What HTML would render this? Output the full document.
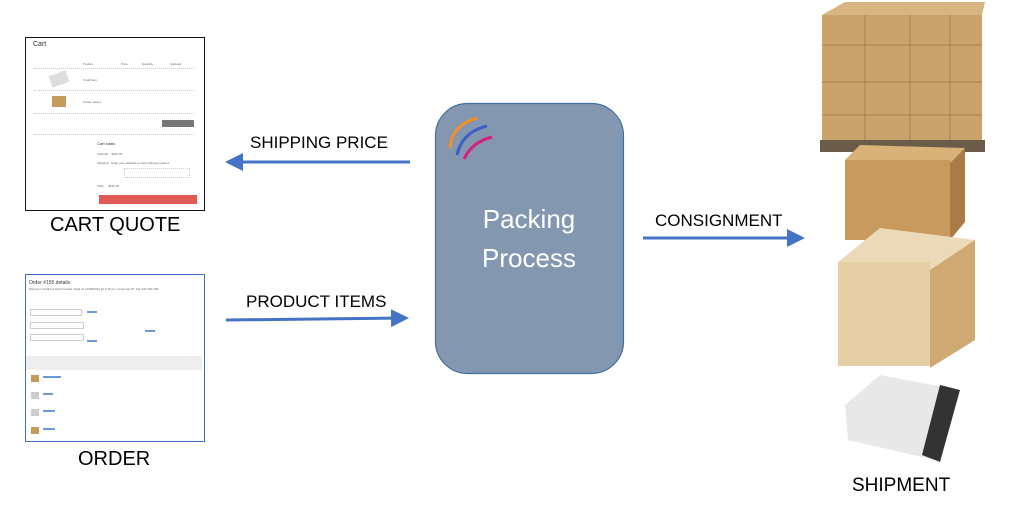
<!DOCTYPE html>
<html><head><style>
body{margin:0;width:1024px;height:512px;background:#fff;position:relative;overflow:hidden;font-family:"Liberation Sans",sans-serif}
.a{position:absolute}
.lbl{position:absolute;font-size:17px;color:#000}
.big{position:absolute;font-size:20px;color:#000}
.t{position:absolute;font-size:3px;color:#666}
.line{position:absolute;border-top:1px dotted #ccc}
</style></head><body>
<!-- cart screenshot -->
<div class="a" style="left:25px;top:37px;width:178px;height:172px;border:1.5px solid #111;background:#fff"></div>
<div class="a" style="left:33px;top:41px;font-size:7px;color:#333">Cart</div>
<div class="t" style="left:83px;top:62px">Product</div><div class="t" style="left:121px;top:62px">Price</div><div class="t" style="left:142px;top:62px">Quantity</div><div class="t" style="left:170px;top:62px">Subtotal</div>
<div class="line" style="left:34px;top:68px;width:160px"></div>
<div class="a" style="left:50px;top:73px;width:18px;height:12px;background:#ddd;transform:rotate(-20deg)"></div>
<div class="a" style="left:52px;top:96px;width:14px;height:11px;background:#c59b5c"></div>
<div class="t" style="left:83px;top:78px">Small Item</div><div class="t" style="left:83px;top:100px">Carton Heavy</div>
<div class="line" style="left:34px;top:90px;width:160px"></div>
<div class="line" style="left:34px;top:113px;width:160px"></div>
<div class="a" style="left:162px;top:120px;width:32px;height:7px;background:#777"></div>
<div class="line" style="left:34px;top:134px;width:160px"></div>
<div class="a" style="left:97px;top:141px;font-size:4px;color:#333">Cart totals</div>
<div class="t" style="left:97px;top:152px">Subtotal&nbsp;&nbsp;&nbsp;&nbsp;$150.00</div>
<div class="t" style="left:97px;top:161px">Shipping&nbsp;&nbsp;&nbsp;Enter your address to view shipping options.</div>
<div class="a" style="left:124px;top:168px;width:64px;height:8px;border:1px dotted #ccc"></div>
<div class="t" style="left:97px;top:184px">Total&nbsp;&nbsp;&nbsp;&nbsp;&nbsp;&nbsp;$150.00</div>
<div class="a" style="left:99px;top:195px;width:98px;height:9px;background:#e05a55"></div>
<div class="big" style="left:50px;top:214px">CART QUOTE</div>
<!-- order screenshot -->
<div class="a" style="left:25px;top:274px;width:178px;height:166px;border:1.5px solid #3a6fc4;background:#fff"></div>
<div class="a" style="left:29px;top:280px;font-size:5px;color:#333">Order #155 details</div>
<div class="t" style="left:29px;top:287px">Payment via Direct bank transfer. Paid on 14/08/2021 @ 2:16 am. Customer IP: 144.130.100.108</div>
<div class="a" style="left:30px;top:309px;width:50px;height:5px;border:1px solid #ccc"></div>
<div class="a" style="left:30px;top:322px;width:52px;height:5px;border:1px solid #ccc"></div>
<div class="a" style="left:30px;top:334px;width:52px;height:5px;border:1px solid #ccc"></div>
<div class="a" style="left:87px;top:311px;width:10px;height:2px;background:#6a9ad8"></div>
<div class="a" style="left:87px;top:340px;width:10px;height:2px;background:#6a9ad8"></div>
<div class="a" style="left:145px;top:330px;width:10px;height:2px;background:#6a9ad8"></div>
<div class="a" style="left:26px;top:356px;width:176px;height:14px;background:#eee"></div>
<div class="a" style="left:31px;top:375px;width:8px;height:7px;background:#c59b5c"></div>
<div class="a" style="left:31px;top:392px;width:8px;height:7px;background:#ccc"></div>
<div class="a" style="left:31px;top:409px;width:8px;height:7px;background:#ccc"></div>
<div class="a" style="left:31px;top:427px;width:8px;height:7px;background:#c59b5c"></div>
<div class="a" style="left:43px;top:376px;width:18px;height:2px;background:#6a9ad8"></div>
<div class="a" style="left:43px;top:393px;width:10px;height:2px;background:#6a9ad8"></div>
<div class="a" style="left:43px;top:410px;width:12px;height:2px;background:#6a9ad8"></div>
<div class="a" style="left:43px;top:428px;width:12px;height:2px;background:#6a9ad8"></div>
<div class="big" style="left:78px;top:448px">ORDER</div>
<!-- arrows -->
<svg class="a" style="left:0;top:0" width="1024" height="512">
<defs><marker id="m" markerWidth="6" markerHeight="6" refX="5" refY="3" orient="auto"><path d="M0,0 L6,3 L0,6z" fill="#4472c4"/></marker></defs>
<line x1="410" y1="162" x2="228" y2="162" stroke="#4472c4" stroke-width="3" marker-end="url(#m)"/>
<line x1="226" y1="320" x2="406" y2="318" stroke="#4472c4" stroke-width="3" marker-end="url(#m)"/>
<line x1="643" y1="238" x2="802" y2="238" stroke="#4472c4" stroke-width="3" marker-end="url(#m)"/>
<rect x="435.5" y="103.5" width="188" height="270" rx="32" fill="#8497b0" stroke="#41719c" stroke-width="1.2"/>
<path d="M450,148 Q452,125 477,118" stroke="#f0902a" stroke-width="3" fill="none"/>
<path d="M457,155 Q462,132 487,126" stroke="#3a5fc8" stroke-width="3" fill="none"/>
<path d="M464,159 Q472,142 492,137" stroke="#d6207a" stroke-width="3" fill="none"/>
<!-- pallet -->
<rect x="822" y="15" width="160" height="130" fill="#c9a26c"/>
<path d="M822,15 L845,2 L985,2 L982,15z" fill="#d8b683"/>
<line x1="822" y1="45" x2="982" y2="45" stroke="#a8804c"/><line x1="822" y1="82" x2="982" y2="82" stroke="#a8804c"/><line x1="822" y1="115" x2="982" y2="115" stroke="#a8804c"/>
<line x1="865" y1="15" x2="865" y2="145" stroke="#a8804c"/><line x1="910" y1="15" x2="910" y2="145" stroke="#a8804c"/><line x1="950" y1="15" x2="950" y2="145" stroke="#a8804c"/>
<rect x="820" y="140" width="165" height="12" fill="#6b5c4a"/>
<!-- medium box -->
<path d="M845,160 L860,145 L965,148 L950,163z" fill="#d9b27a"/>
<rect x="845" y="160" width="105" height="80" fill="#c89a5e"/>
<path d="M950,163 L965,148 L965,222 L950,240z" fill="#a97b45"/>
<!-- big box -->
<path d="M838,262 L880,228 L975,240 L930,270z" fill="#ecd9b8"/>
<rect x="838" y="262" width="92" height="104" fill="#e6cfa6"/>
<path d="M930,270 L975,240 L975,340 L930,368z" fill="#cfa872"/>
<!-- bag -->
<path d="M845,405 L880,375 L960,390 L935,460 L848,440z" fill="#e8e8e8"/>
<path d="M940,385 L960,390 L940,462 L922,455z" fill="#333"/>
</svg>
<div class="lbl" style="left:250px;top:133px">SHIPPING PRICE</div>
<div class="lbl" style="left:246px;top:292px">PRODUCT ITEMS</div>
<div class="lbl" style="left:655px;top:211px">CONSIGNMENT</div>
<div class="a" style="left:435px;top:200px;width:188px;text-align:center;font-size:26px;color:#fff;line-height:39px">Packing<br>Process</div>
<div class="big" style="left:852px;top:475px;font-size:19px">SHIPMENT</div>
</body></html>
